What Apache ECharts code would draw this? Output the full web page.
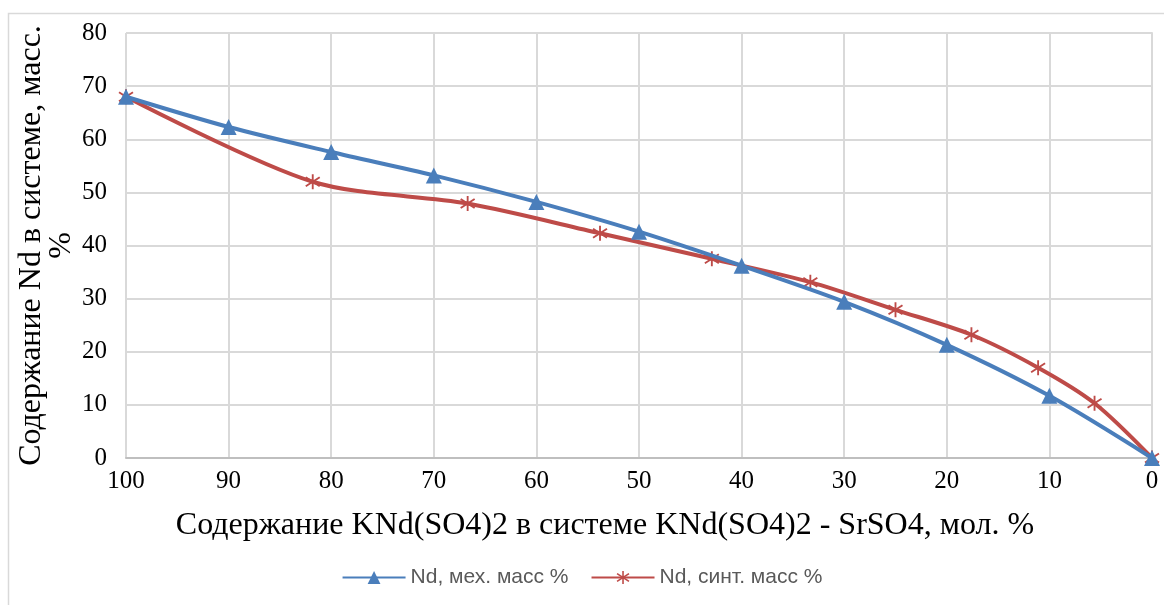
<!DOCTYPE html>
<html>
<head>
<meta charset="utf-8">
<script src="https://cdn.jsdelivr.net/npm/echarts@6/dist/echarts.min.js"></script>
<style>
  html, body { margin: 0; padding: 0; background: #ffffff; }
  #chart { width: 1164px; height: 605px; }
</style>
</head>
<body>
<div id="chart"></div>
<script>
// Mechanical mixtures: KNd(SO4)2 content (mol. %) and Nd content (mass %)
const mechX = [100, 90, 80, 70, 60, 50, 40, 30, 20, 10, 0];
const mechY = [68.0, 62.3, 57.6, 53.2, 48.2, 42.6, 36.2, 29.4, 21.3, 11.7, 0];

// Synthesized samples
const synthX = [100, 81.8, 66.7, 53.8, 42.9, 33.3, 25.0, 17.6, 11.1, 5.6, 0];
const synthY = [68.0, 52.0, 47.9, 42.3, 37.5, 33.1, 27.9, 23.2, 17.0, 10.3, 0];

const seriesNames = ['Nd, мех. масс %', 'Nd, синт. масс %'];
const xTitle = 'Содержание KNd(SO4)2 в системе KNd(SO4)2 - SrSO4, мол. %';
const yTitle = 'Содержание Nd в системе, масс.\n%';

const BLUE = '#4A7EBB';
const RED = '#BE4B48';

// Asterisk marker: vertical bar plus two diagonals, all wound the same way
const STAR = 'path://M8.8 0L11.2 0L11.2 20L8.8 20Z' +
  'M1.666 2.998L19.666 14.998L18.334 16.998L0.334 4.998Z' +
  'M0.334 14.998L18.334 2.998L19.666 4.998L1.666 16.998Z';

const zip = (xs, ys) => xs.map((x, i) => [x, ys[i]]);

const chart = echarts.init(document.getElementById('chart'), null, { renderer: 'canvas' });
chart.setOption({
  backgroundColor: '#ffffff',
  animation: false,
  graphic: [{
    type: 'rect',
    shape: { x: 8.5, y: 13.5, width: 1180, height: 620 },
    style: { fill: 'none', stroke: '#D9D9D9', lineWidth: 1.5 },
    silent: true
  }],
  grid: { left: 126, right: 12, top: 33, bottom: 147, containLabel: false, outerBoundsMode: 'none' },
  xAxis: {
    type: 'value',
    min: 0, max: 100, interval: 10,
    inverse: true,
    name: xTitle,
    nameLocation: 'middle',
    nameGap: 52,
    nameMoveOverlap: false,
    nameTextStyle: {
      fontFamily: 'Liberation Serif', fontSize: 32, color: '#000',
      padding: [0, 68, 0, 0]
    },
    axisLine: { show: true, lineStyle: { color: '#BFBFBF', width: 2 } },
    axisTick: { show: false },
    axisLabel: { fontFamily: 'Liberation Serif', fontSize: 25, color: '#000', margin: 11 },
    splitLine: { show: true, lineStyle: { color: '#D9D9D9', width: 2 } }
  },
  yAxis: {
    type: 'value',
    min: 0, max: 80, interval: 10,
    name: yTitle,
    nameLocation: 'middle',
    nameGap: 49,
    nameMoveOverlap: false,
    nameRotate: 90,
    nameTextStyle: { fontFamily: 'Liberation Serif', fontSize: 32, color: '#000', lineHeight: 30 },
    axisLine: { show: true, lineStyle: { color: '#D9D9D9', width: 2 } },
    axisTick: { show: false },
    axisLabel: { fontFamily: 'Liberation Serif', fontSize: 25, color: '#000', margin: 19 },
    splitLine: { show: true, lineStyle: { color: '#D9D9D9', width: 2 } }
  },
  legend: {
    top: 562,
    left: 'center',
    itemWidth: 63,
    itemHeight: 16,
    itemGap: 22,
    textStyle: { fontFamily: 'Liberation Sans', fontSize: 21, color: '#595959' },
    data: seriesNames
  },
  series: [
    {
      name: seriesNames[0],
      type: 'line',
      data: zip(mechX, mechY),
      smooth: 0.3,
      symbol: 'triangle',
      symbolSize: 16,
      lineStyle: { color: BLUE, width: 4 },
      itemStyle: { color: BLUE },
      z: 3
    },
    {
      name: seriesNames[1],
      type: 'line',
      data: zip(synthX, synthY),
      smooth: 0.3,
      symbol: STAR,
      symbolSize: 15,
      lineStyle: { color: RED, width: 4 },
      itemStyle: { color: RED },
      z: 2
    }
  ]
});
</script>
</body>
</html>
